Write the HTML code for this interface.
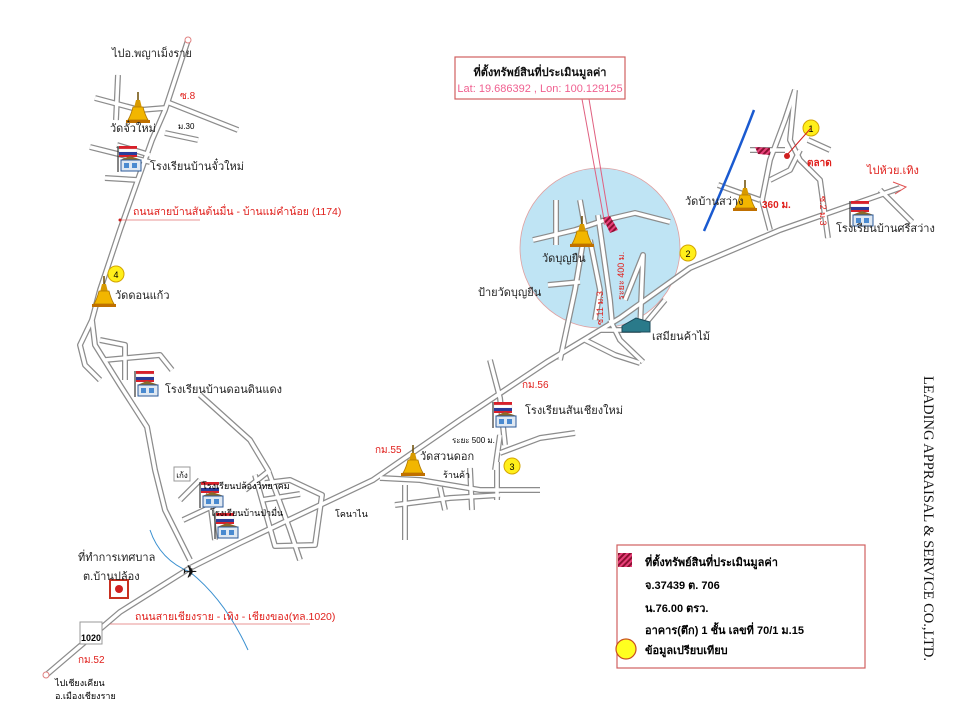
<!DOCTYPE html>
<html><head><meta charset="utf-8">
<style>
html,body{margin:0;padding:0;background:#fff;}
svg{display:block;}
text{font-family:"Liberation Sans","DejaVu Sans",sans-serif;}
.t{font-size:11px;fill:#222;}
.r{font-size:10px;fill:#e0201c;}
</style></head><body>
<svg width="960" height="720" viewBox="0 0 960 720" xmlns="http://www.w3.org/2000/svg">
<defs>
<g id="roads" fill="none">
 <path d="M45,676 L120,612 L190,568 L240,543 L373,480 L460,420 L547,362 L620,318 L690,268 L780,230 L900,188"/>
 <path d="M188,40 L165,110 L152,140 L120,230 L100,290 L92,320 L95,345 L120,385 L147,427 L155,470 L165,510 L190,560"/>
 <path d="M95,98 L140,110 L165,108"/>
 <path d="M167,102 L238,130"/>
 <path d="M118,75 L116,120"/>
 <path d="M165,133 L198,140"/>
 <path d="M90,147 L150,162"/>
 <path d="M117,145 L150,155"/>
 <path d="M105,178 L138,180"/>
 <path d="M92,320 L80,345 L85,365 L100,380"/>
 <path d="M100,340 L125,345 L125,380"/>
 <path d="M105,360 L160,355 L172,370"/>
 <path d="M200,395 L250,440 L268,470 L290,530 L300,560"/>
 <path d="M180,500 L200,480"/>
 <path d="M270,470 L245,490"/>
 <path d="M255,475 L275,546 L315,545 L322,495 L290,480 L265,483"/>
 <path d="M262,500 L300,494"/>
 <path d="M183,520 L215,505"/>
 <path d="M208,485 L215,540"/>
 <path d="M380,478 L420,480 L480,490 L540,490"/>
 <path d="M395,505 L450,498 L500,495"/>
 <path d="M405,485 L405,540"/>
 <path d="M440,487 L445,510"/>
 <path d="M470,468 L472,510"/>
 <path d="M497,462 L497,500"/>
 <path d="M500,435 L495,470"/>
 <path d="M500,453 L540,438 L575,433"/>
 <path d="M490,360 L500,398 L505,445"/>
 <path d="M533,240 L575,230 L605,220 L635,213 L670,222"/>
 <path d="M556,200 L556,245"/>
 <path d="M580,200 L585,228"/>
 <path d="M598,215 L610,300 L612,322"/>
 <path d="M590,240 L600,290 L595,320"/>
 <path d="M585,230 L575,290 L560,360"/>
 <path d="M600,330 L640,330 L665,300"/>
 <path d="M640,330 L643,255 L625,300"/>
 <path d="M548,285 L580,282"/>
 <path d="M585,340 L615,355 L640,363"/>
 <path d="M610,320 L620,340 L643,362"/>
 <path d="M795,90 L785,120 L770,160 L762,200 L770,230"/>
 <path d="M795,90 L790,140 L800,160 L820,180 L828,238"/>
 <path d="M750,150 L785,150"/>
 <path d="M808,140 L830,150"/>
 <path d="M718,185 L760,200"/>
 <path d="M770,180 L790,170 L800,150"/>
 <path d="M880,190 L912,222"/>
</g>
<g id="temple">
 <line x1="0" y1="-20" x2="0" y2="-10" stroke="#6b4a00" stroke-width="1.5"/>
 <path d="M-2,-12 L2,-12 L4,-4 L-4,-4 Z" fill="#d89a00"/>
 <path d="M-5,-5 Q-7,3 -10,8 L10,8 Q7,3 5,-5 Z" fill="#f2b600" stroke="#b07800" stroke-width="0.8"/>
 <rect x="-12" y="8" width="24" height="3" fill="#c07000"/>
</g>
<g id="school">
 <line x1="0" y1="-14" x2="0" y2="12" stroke="#333" stroke-width="1.2"/>
 <rect x="1" y="-14" width="18" height="3" fill="#d8202a"/>
 <rect x="1" y="-11" width="18" height="3" fill="#fff" stroke="#ccc" stroke-width="0.3"/>
 <rect x="1" y="-8" width="18" height="3" fill="#2a3c9a"/>
 <rect x="1" y="-5" width="18" height="2" fill="#d8202a"/>
 <path d="M2,0 L12,-4 L24,0 Z" fill="#8a6a2a"/>
 <rect x="3" y="0" width="20" height="11" fill="#dfe8f2" stroke="#2b5a9a" stroke-width="1"/>
 <rect x="6" y="3" width="5" height="5" fill="#4a8ad0"/>
 <rect x="14" y="3" width="5" height="5" fill="#4a8ad0"/>
</g>
<g id="yc"><circle r="8" fill="#ffef1a" stroke="#d4a400" stroke-width="1"/></g>
<pattern id="hatch" width="4" height="4" patternUnits="userSpaceOnUse" patternTransform="rotate(45)">
 <rect width="4" height="4" fill="#e8407a"/><rect width="2" height="4" fill="#8a1030"/>
</pattern>
</defs>

<circle cx="600" cy="248" r="80" fill="#bfe4f4" stroke="#e0a0a0" stroke-width="0.8"/>

<use href="#roads" stroke="#8c8c8c" stroke-width="6" stroke-linejoin="round" stroke-linecap="butt"/>
<use href="#roads" stroke="#ffffff" stroke-width="3.5" stroke-linejoin="round"/>

<path d="M893,182 L906,187 L895,194" fill="none" stroke="#e05050" stroke-width="1"/>
<circle cx="188" cy="40" r="3" fill="#fff" stroke="#e08080"/>
<circle cx="46" cy="675" r="3" fill="#fff" stroke="#e08080"/>

<path d="M754,110 Q735,160 704,231" fill="none" stroke="#1a5ad0" stroke-width="2.5"/>
<path d="M150,530 Q160,560 190,572 Q225,600 248,650" fill="none" stroke="#3a90d0" stroke-width="1"/>

<rect x="455" y="57" width="170" height="42" fill="#fff" stroke="#d06060" stroke-width="1.2"/>
<text x="540" y="76" text-anchor="middle" style="font-size:11px;font-weight:bold;fill:#111">ที่ตั้งทรัพย์สินที่ประเมินมูลค่า</text>
<text x="540" y="92" text-anchor="middle" style="font-size:11px;fill:#f06090">Lat: 19.686392  , Lon: 100.129125</text>
<line x1="582" y1="99" x2="605" y2="225" stroke="#e06080" stroke-width="1"/>
<line x1="589" y1="99" x2="610" y2="225" stroke="#e06080" stroke-width="1"/>
<path d="M603,218 L610,216 L618,230 L610,233 Z" fill="url(#hatch)"/>
<path d="M755,147 L770,148 L770,155 L758,154 Z" fill="url(#hatch)"/>

<use href="#temple" x="138" y="112"/>
<use href="#temple" x="104" y="296"/>
<use href="#temple" x="582" y="236"/>
<use href="#temple" x="745" y="200"/>
<use href="#temple" x="413" y="465"/>

<use href="#school" x="118" y="160"/>
<use href="#school" x="135" y="385"/>
<use href="#school" x="493" y="416"/>
<use href="#school" x="850" y="215"/>
<use href="#school" x="200" y="496"/>
<use href="#school" x="215" y="527"/>

<path d="M622,326 L636,318 L650,322 L650,332 L622,332 Z" fill="#2a7a8a" stroke="#1a4a5a"/>
<g><use href="#yc" x="811" y="128"/><text x="811" y="132" text-anchor="middle" style="font-size:9px">1</text></g>
<g><use href="#yc" x="688" y="253"/><text x="688" y="257" text-anchor="middle" style="font-size:9px">2</text></g>
<g><use href="#yc" x="512" y="466"/><text x="512" y="470" text-anchor="middle" style="font-size:9px">3</text></g>
<g><use href="#yc" x="116" y="274"/><text x="116" y="278" text-anchor="middle" style="font-size:9px">4</text></g>
<line x1="811" y1="128" x2="787" y2="155" stroke="#d02020"/>
<circle cx="787" cy="156" r="3" fill="#d02020"/>

<rect x="110" y="580" width="18" height="18" fill="#fff" stroke="#c83020" stroke-width="2"/>
<circle cx="119" cy="589" r="4" fill="#d02020"/>
<text x="190" y="578" text-anchor="middle" style="font-size:18px;fill:#111">✈</text>
<rect x="80" y="622" width="22" height="22" fill="#fff" stroke="#999"/>
<text x="91" y="641" text-anchor="middle" style="font-size:9px;font-weight:bold">1020</text>
<rect x="174" y="467" width="16" height="14" fill="#fff" stroke="#999"/>
<text x="182" y="478" text-anchor="middle" style="font-size:8px">เก้ง</text>

<text x="133" y="215" class="r" style="font-size:10.5px">ถนนสายบ้านสันต้นมื่น - บ้านแม่คำน้อย (1174)</text>
<line x1="120" y1="220" x2="200" y2="220" stroke="#e07070" stroke-width="0.8"/>
<circle cx="120" cy="220" r="1.5" fill="#d02020"/>
<text x="135" y="620" class="r" style="font-size:10.5px">ถนนสายเชียงราย - เทิง - เชียงของ(ทล.1020)</text>
<line x1="110" y1="624" x2="310" y2="624" stroke="#e07070" stroke-width="0.8"/>
<text x="180" y="99" class="r">ซ.8</text>
<text x="78" y="663" class="r">กม.52</text>
<text x="375" y="453" class="r">กม.55</text>
<text x="522" y="388" class="r">กม.56</text>
<text x="762" y="208" class="r" style="font-weight:bold">360 ม.</text>
<text x="807" y="166" class="r" style="font-weight:bold">ตลาด</text>
<text x="867" y="174" class="r" style="font-size:11px">ไปห้วย.เทิง</text>
<text transform="translate(820,196) rotate(90)" class="r" style="font-size:9px">ซ.2 ม.3</text>
<text transform="translate(624,300) rotate(-90)" class="r" style="font-size:9px">ระยะ 400 ม.</text>
<text transform="translate(603,325) rotate(-90)" class="r" style="font-size:9px">ซ.11 ม.3</text>

<text x="112" y="57" class="t">ไปอ.พญาเม็งราย</text>
<text x="110" y="132" class="t">วัดจั๋วใหม่</text>
<text x="178" y="129" style="font-size:8px">ม.30</text>
<text x="150" y="170" class="t">โรงเรียนบ้านจั๋วใหม่</text>
<text x="115" y="299" class="t">วัดดอนแก้ว</text>
<text x="165" y="393" class="t">โรงเรียนบ้านดอนดินแดง</text>
<text x="202" y="489" style="font-size:9px">โรงเรียนปล้องวิทยาคม</text>
<text x="210" y="516" style="font-size:9px">โรงเรียนบ้านป่ามื่น</text>
<text x="78" y="561" class="t">ที่ทำการเทศบาล</text>
<text x="83" y="580" class="t">ต.บ้านปล้อง</text>
<text x="55" y="686" style="font-size:9px">ไปเชียงเคียน</text>
<text x="55" y="699" style="font-size:9px">อ.เมืองเชียงราย</text>
<text x="420" y="460" class="t">วัดสวนดอก</text>
<text x="443" y="478" style="font-size:9px">ร้านค้า</text>
<text x="452" y="443" style="font-size:8px">ระยะ 500 ม.</text>
<text x="525" y="414" class="t">โรงเรียนสันเชียงใหม่</text>
<text x="335" y="517" style="font-size:9px">โคนาไน</text>
<text x="542" y="262" class="t">วัดบุญยืน</text>
<text x="478" y="296" class="t">ป้ายวัดบุญยืน</text>
<text x="652" y="340" class="t">เสมียนค้าไม้</text>
<text x="685" y="205" class="t">วัดบ้านสว่าง</text>
<text x="836" y="232" class="t">โรงเรียนบ้านศรีสว่าง</text>

<rect x="617" y="545" width="248" height="123" fill="#fff" stroke="#d06060" stroke-width="1.2"/>
<rect x="618" y="553" width="14" height="14" fill="url(#hatch)"/>
<text x="645" y="566" style="font-size:11px;font-weight:bold">ที่ตั้งทรัพย์สินที่ประเมินมูลค่า</text>
<text x="645" y="589" style="font-size:11px;font-weight:bold">จ.37439    ต. 706</text>
<text x="645" y="612" style="font-size:11px;font-weight:bold">น.76.00   ตรว.</text>
<text x="645" y="634" style="font-size:11px;font-weight:bold">อาคาร(ตึก)  1 ชั้น เลขที่ 70/1  ม.15</text>
<circle cx="626" cy="649" r="10" fill="#ffff20" stroke="#c85020" stroke-width="1.2"/>
<text x="645" y="654" style="font-size:11px;font-weight:bold">ข้อมูลเปรียบเทียบ</text>

<text transform="translate(924,376) rotate(90)" style="font-family:'Liberation Serif',serif;font-size:14.5px;fill:#111">LEADING APPRAISAL &amp; SERVICE CO.,LTD.</text>
</svg>
</body></html>
